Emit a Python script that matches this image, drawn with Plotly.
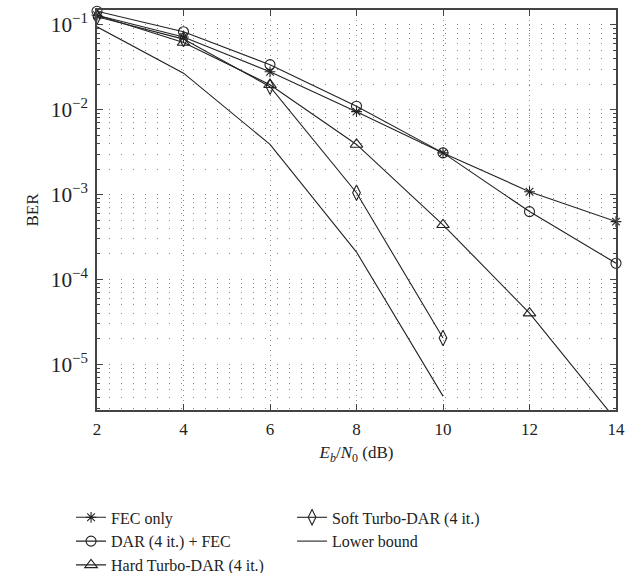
import plotly.graph_objects as go

ebn0 = [2, 4, 6, 8, 10, 12, 14]
fec_only = [0.13, 0.072, 0.028, 0.0095, 0.0031, 0.00108, 0.00048]
dar_fec = [0.145, 0.083, 0.034, 0.011, 0.0031, 0.00063, 0.000155]
hard_turbo = [0.13, 0.062, 0.0197, 0.0039, 0.00044, 0.00004, 0.0000022]
soft_x = [2, 4, 6, 8, 10]
soft_turbo = [0.125, 0.068, 0.0187, 0.00105, 0.0000204]
lb_x = [2, 4, 6, 8, 10]
lower_bound = [0.095, 0.027, 0.0039, 0.00021, 0.0000042]

FONT = "Liberation Serif"
C = "#222222"

fig = go.Figure()

def add(x, y, name, symbol, size=10, clip=False):
    fig.add_trace(go.Scatter(
        x=x, y=y, name=name, mode="lines+markers" if symbol else "lines",
        line=dict(color=C, width=1.1),
        marker=dict(symbol=symbol or "circle", size=size,
                    color=C, line=dict(color=C, width=1.1)),
        cliponaxis=clip,
    ))

add(ebn0, fec_only, "FEC only", "asterisk-open", 9)
add(soft_x, soft_turbo, "Soft Turbo-DAR (4 it.)", "diamond-tall-open", 11)
add(ebn0, dar_fec, "DAR (4 it.) + FEC", "circle-open", 10)
add(lb_x, lower_bound, "Lower bound", None)
add(ebn0, hard_turbo, "Hard Turbo-DAR (4 it.)", "triangle-up-open", 11, clip=True)

fig.update_layout(
    width=639, height=573,
    margin=dict(l=97, r=23, t=10, b=163, autoexpand=False),
    paper_bgcolor="white", plot_bgcolor="white",
    font=dict(family=FONT, size=17, color="#222"),
    showlegend=True,
    legend=dict(
        orientation="h", x=-0.05, y=-0.226, xanchor="left", yanchor="top",
        entrywidth=176, entrywidthmode="pixels",
        font=dict(family=FONT, size=16, color="#222"),
        tracegroupgap=0,
    ),
)

fig.update_xaxes(
    range=[2, 14], dtick=2, tick0=2,
    showline=True, linecolor="#444", linewidth=1.5, mirror="allticks",
    ticks="inside", ticklen=6, tickcolor="#444",
    showgrid=True, gridcolor="#888", griddash="1px,4px", gridwidth=1,
    zeroline=False, ticklabelstandoff=3,
    title=dict(text="<i>E<sub>b</sub></i>/<i>N</i><sub>0</sub> (dB)", standoff=8,
               font=dict(family=FONT, size=17)),
    tickfont=dict(family=FONT, size=17),
)
fig.update_yaxes(
    type="log", range=[-5.54, -0.824], dtick=1,
    exponentformat="power",
    showline=True, linecolor="#444", linewidth=1.5, mirror="allticks",
    ticks="inside", ticklen=6, tickcolor="#444",
    showgrid=True, gridcolor="#888", griddash="1px,11px", gridwidth=1,
    zeroline=False, ticklabelstandoff=4,
    minor=dict(dtick="D1", ticks="inside", ticklen=3, tickcolor="#444",
               showgrid=True, gridcolor="#888", griddash="1px,11px", gridwidth=1),
    title=dict(text="BER", standoff=8, font=dict(family=FONT, size=17)),
    tickfont=dict(family=FONT, size=17),
)

fig.write_html("out.html")
